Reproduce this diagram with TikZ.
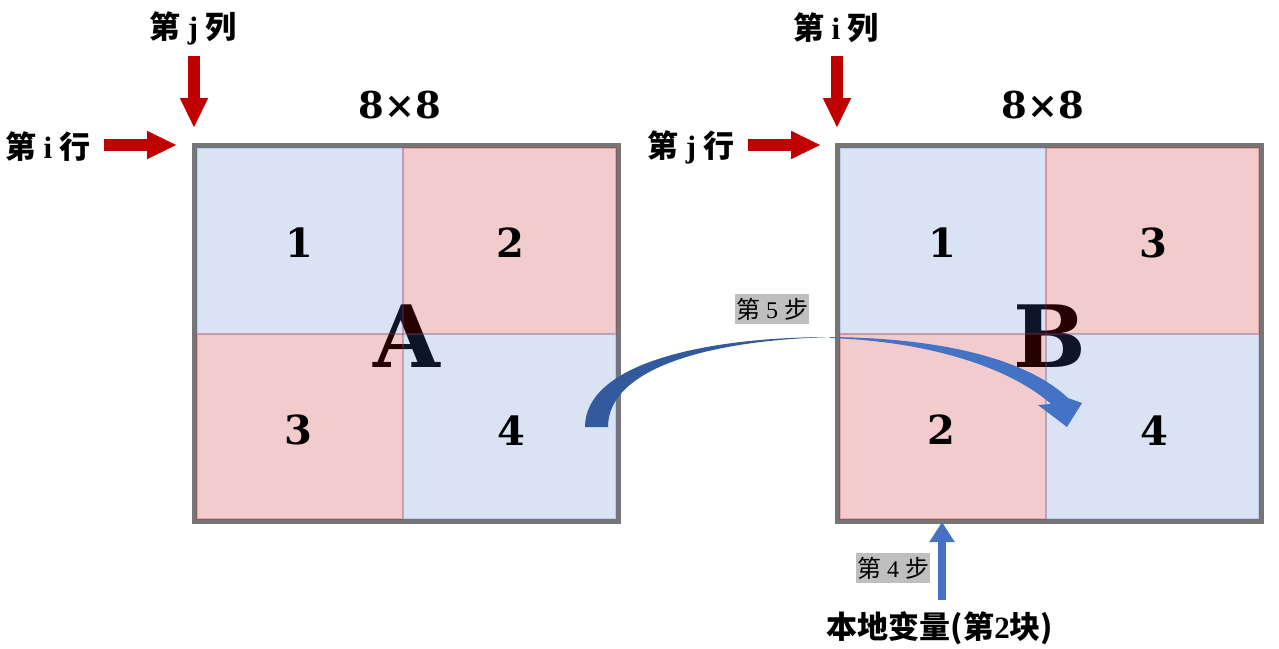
\documentclass[tikz,border=0pt]{standalone}
\usepackage{fontspec}
\setmainfont{Liberation Serif}
\newfontfamily\cjk{Noto Sans CJK SC}
\newfontfamily\numfont{DejaVu Serif}
\usetikzlibrary{arrows.meta}

\definecolor{framegray}{RGB}{118,118,118}
\definecolor{blockblue}{RGB}{68,114,196}
\definecolor{blockred}{RGB}{192,0,0}
\definecolor{bendblue}{RGB}{52,90,158}
\definecolor{stepgray}{RGB}{191,191,191}

\tikzstyle{redarrow}=[draw=blockred, line width=12pt, -{Triangle[length=30pt,width=26pt]}]
\tikzstyle{bluearrow}=[draw=blockblue, line width=8pt, -{Triangle[length=20pt,width=24pt]}]
\tikzstyle{indexlabel}=[font=\cjk\bfseries\fontsize{31}{31}\selectfont, inner sep=0pt]
\tikzstyle{sizelabel}=[font=\numfont\bfseries\fontsize{37}{37}\selectfont, inner sep=0pt, anchor=base]
\tikzstyle{blocknum}=[font=\numfont\bfseries\fontsize{40}{40}\selectfont, inner sep=0pt, anchor=base]
\tikzstyle{bigletter}=[font=\numfont\bfseries\fontsize{86}{86}\selectfont, inner sep=0pt, anchor=base]
\tikzstyle{steplabel}=[fill=stepgray, font=\fontsize{24}{24}\selectfont, minimum width=74pt, minimum height=30pt, inner sep=0pt]
\tikzstyle{bluequad}=[fill=blockblue, draw=blockblue, fill opacity=0.2, draw opacity=0.2, line width=1.5pt]
\tikzstyle{redquad}=[fill=blockred, draw=blockred, fill opacity=0.2, draw opacity=0.2, line width=1.5pt]
\newcommand{\gap}{\hspace{7pt}}

\begin{document}
\begin{tikzpicture}[x=1pt, y=-1pt]
\useasboundingbox (0,0) rectangle (1279,648);
% Big letters, under the blocks
    \node[bigletter] (letterA) at (407,367) {A};
    \node[bigletter] (letterB) at (1050,367) {B};
% Matrix A
    \draw[framegray, line width=5pt] (194.5,145.5) rectangle (618.5,521.5);
    \filldraw[bluequad] (197,148) rectangle (403,334);
    \filldraw[redquad] (403,148) rectangle (616,334);
    \filldraw[redquad] (197,334) rectangle (403,519);
    \filldraw[bluequad] (403,334) rectangle (616,519);
    \node[blocknum] (a1) at (299,257) {1};
    \node[blocknum] (a2) at (510,257) {2};
    \node[blocknum] (a3) at (298,444) {3};
    \node[blocknum] (a4) at (511,445) {4};
    \node[sizelabel] (sizeA) at (400,118) {8×8};
% Matrix B
    \draw[framegray, line width=5pt] (837.5,145.5) rectangle (1261.5,521.5);
    \filldraw[bluequad] (840,148) rectangle (1046,334);
    \filldraw[redquad] (1046,148) rectangle (1259,334);
    \filldraw[redquad] (840,334) rectangle (1046,519);
    \filldraw[bluequad] (1046,334) rectangle (1259,519);
    \node[blocknum] (b1) at (942,257) {1};
    \node[blocknum] (b3) at (1153,257) {3};
    \node[blocknum] (b2) at (941,444) {2};
    \node[blocknum] (b4) at (1154,445) {4};
    \node[sizelabel] (sizeB) at (1043,118) {8×8};
% Row and column labels
    \node[indexlabel] (colA) at (193,28) {第\gap{\rmfamily j}\gap 列};
    \node[indexlabel] (rowA) at (48,147) {第\gap{\rmfamily i}\gap 行};
    \node[indexlabel] (colB) at (836,28) {第\gap{\rmfamily i}\gap 列};
    \node[indexlabel] (rowB) at (691,147) {第\gap{\rmfamily j}\gap 行};
    \coordinate (colAstart) at (194,56);
    \coordinate (colAend) at (194,128);
    \coordinate (rowAstart) at (104,145);
    \coordinate (rowAend) at (177,145);
    \coordinate (colBstart) at (837,56);
    \coordinate (colBend) at (837,128);
    \coordinate (rowBstart) at (748,145);
    \coordinate (rowBend) at (821,145);
    \draw[redarrow] (colAstart) -- (colAend);
    \draw[redarrow] (rowAstart) -- (rowAend);
    \draw[redarrow] (colBstart) -- (colBend);
    \draw[redarrow] (rowBstart) -- (rowBend);
% Step 5: block 4 of A into B
    \fill[bendblue] (585,427) .. controls (585,365) and (700,337) .. (832,337)
        .. controls (710,340) and (608,368) .. (608,427) -- cycle;
    \fill[blockblue] (830,337) .. controls (950,338) and (1030,362) .. (1068,398)
        -- (1082,403) -- (1067,427) -- (1038,405) -- (1051,404)
        .. controls (1015,372) and (940,342) .. (830,338) -- cycle;
    \node[steplabel] (step5) at (772,309) {{\cjk 第} 5 {\cjk 步}};
% Step 4: local variable into block 2 of B
    \node[indexlabel] (local) at (940,628) {本地变量(第{\rmfamily 2}块)};
    \coordinate (localtop) at (942,600);
    \coordinate (bottomB) at (942,522);
    \draw[bluearrow] (localtop) -- (bottomB);
    \node[steplabel] (step4) at (893,568) {{\cjk 第} 4 {\cjk 步}};
\end{tikzpicture}
\end{document}
